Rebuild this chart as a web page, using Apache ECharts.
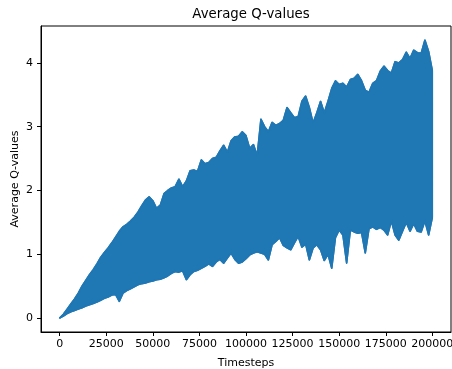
<!DOCTYPE html>
<html>
<head>
<meta charset="utf-8">
<script src="https://cdn.jsdelivr.net/npm/echarts@6/dist/echarts.min.js"></script>
<style>
html,body{margin:0;padding:0;background:#fff;}
#chart{width:452px;height:369px;}
</style>
</head>
<body>
<div id="chart"></div>
<script>
// Timesteps sampled every 2000 steps
var timesteps = [];
for (var i = 0; i <= 100; i++) timesteps.push(i * 2000);

// Upper envelope of the oscillating Average Q-value line
var upperQ = [
0.00,0.06,0.14,0.22,0.30,0.39,0.50,0.59,0.68,0.76,
0.85,0.95,1.03,1.10,1.18,1.27,1.36,1.43,1.47,1.52,
1.58,1.66,1.76,1.85,1.90,1.84,1.72,1.77,1.95,2.00,
2.04,2.06,2.18,2.06,2.15,2.31,2.32,2.30,2.48,2.42,
2.44,2.50,2.52,2.62,2.71,2.60,2.78,2.84,2.85,2.92,
2.86,2.66,2.72,2.55,3.12,3.00,2.92,3.07,3.02,3.05,
3.10,3.30,3.22,3.14,3.16,3.40,3.48,3.30,3.06,3.22,
3.40,3.22,3.40,3.60,3.72,3.66,3.68,3.62,3.74,3.76,
3.82,3.72,3.57,3.54,3.68,3.72,3.87,3.95,3.88,3.84,
4.02,4.00,4.05,4.17,4.07,4.20,4.16,4.15,4.36,4.18,
3.88
];

// Lower envelope of the oscillating Average Q-value line
var lowerQ = [
0.00,0.03,0.07,0.10,0.12,0.14,0.16,0.19,0.21,0.23,
0.25,0.28,0.31,0.33,0.36,0.37,0.26,0.39,0.43,0.46,
0.49,0.52,0.54,0.55,0.57,0.58,0.60,0.61,0.63,0.66,
0.70,0.73,0.72,0.74,0.60,0.68,0.73,0.75,0.78,0.81,
0.85,0.81,0.88,0.92,0.86,0.94,1.02,0.92,0.86,0.88,
0.93,0.99,1.02,1.04,1.02,1.00,0.91,1.15,1.20,1.26,
1.14,1.10,1.07,1.18,1.28,1.11,1.16,0.91,1.10,1.15,
1.07,0.90,1.00,0.78,1.26,1.38,1.30,0.86,1.38,1.35,
1.33,1.34,1.02,1.40,1.43,1.39,1.42,1.38,1.30,1.52,
1.30,1.22,1.36,1.50,1.36,1.48,1.36,1.35,1.52,1.30,
1.58
];

var xTicks = [0, 25000, 50000, 75000, 100000, 125000, 150000, 175000, 200000];
var yTicks = [0, 1, 2, 3, 4];

var upperData = timesteps.map(function (t, i) { return [t, upperQ[i]]; });
var lowerData = timesteps.map(function (t, i) { return [t, lowerQ[i]]; });

var blue = '#1f77b4';
var font = 'DejaVu Sans';

function renderBand(params, api) {
  if (params.dataIndex !== 0) return null;
  var pts = [];
  for (var i = 0; i < timesteps.length; i++) pts.push(api.coord([timesteps[i], upperQ[i]]));
  for (var j = timesteps.length - 1; j >= 0; j--) pts.push(api.coord([timesteps[j], lowerQ[j]]));
  return {
    type: 'polygon',
    shape: {points: pts},
    style: {fill: blue, stroke: blue, lineWidth: 1.5, lineJoin: 'round'}
  };
}

var chart = echarts.init(document.getElementById('chart'), null, {renderer: 'canvas'});
chart.setOption({
  animation: false,
  backgroundColor: '#fff',
  title: {
    text: 'Average Q-values',
    left: 246, top: 3, textAlign: 'center',
    textStyle: {fontFamily: font, fontSize: 13.3, fontWeight: 'normal', color: '#000'}
  },
  grid: {left: 41, right: 1, top: 26, bottom: 37, outerBoundsMode: 'none', containLabel: false,
    show: true, borderColor: '#000', borderWidth: 1, backgroundColor: 'transparent'},
  xAxis: {
    type: 'value', min: -10000, max: 210000,
    name: 'Timesteps', nameLocation: 'middle', nameGap: 26, nameMoveOverlap: false,
    nameTextStyle: {fontFamily: font, fontSize: 11, color: '#000'},
    axisLine: {show: true, onZero: false, lineStyle: {color: '#000', width: 1}},
    axisTick: {show: true, length: 4, customValues: xTicks, lineStyle: {color: '#000'}},
    axisLabel: {margin: 7, customValues: xTicks, fontFamily: font, fontSize: 11, color: '#000',
      hideOverlap: false, formatter: function (v) { return String(v); }},
    splitLine: {show: false}
  },
  yAxis: {
    type: 'value', min: -0.218, max: 4.578,
    name: 'Average Q-values', nameLocation: 'middle', nameGap: 20, nameRotate: 90, nameMoveOverlap: false,
    nameTextStyle: {fontFamily: font, fontSize: 11, color: '#000'},
    axisLine: {show: true, onZero: false, lineStyle: {color: '#000', width: 1}},
    axisTick: {show: true, length: 4, customValues: yTicks, lineStyle: {color: '#000'}},
    axisLabel: {margin: 8, customValues: yTicks, fontFamily: font, fontSize: 11, color: '#000',
      formatter: function (v) { return String(v); }},
    splitLine: {show: false}
  },
  series: [
    {
      name: 'band', type: 'custom', renderItem: renderBand, data: upperData,
      silent: true, clip: true, z: 1
    },
    {
      name: 'upper', type: 'line', data: upperData,
      symbol: 'none', lineStyle: {color: blue, width: 1.5}, itemStyle: {color: blue},
      emphasis: {disabled: true}, silent: true, z: 2
    },
    {
      name: 'lower', type: 'line', data: lowerData,
      symbol: 'none', lineStyle: {color: blue, width: 1.5}, itemStyle: {color: blue},
      emphasis: {disabled: true}, silent: true, z: 2
    }
  ]
});
</script>
</body>
</html>
